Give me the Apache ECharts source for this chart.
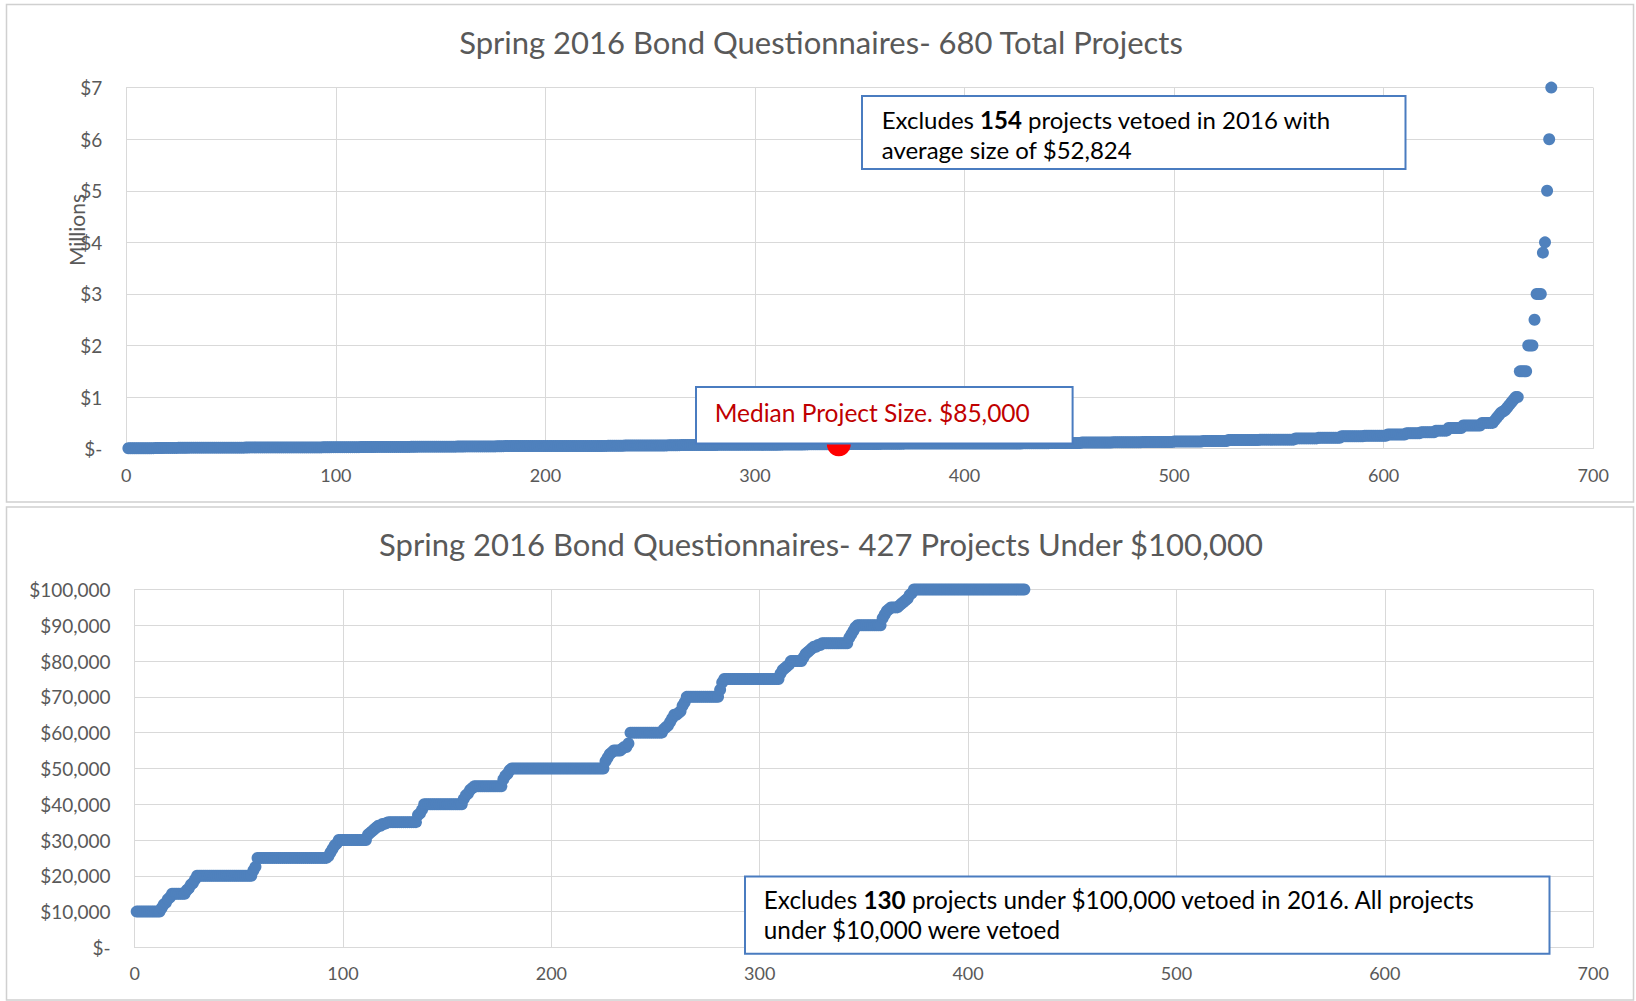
<!DOCTYPE html>
<html>
<head>
<meta charset="utf-8">
<script src="https://cdn.jsdelivr.net/npm/echarts@6/dist/echarts.min.js"></script>
<style>
html,body{margin:0;padding:0;background:#fff;}
#chart{width:1636px;height:1001px;}
</style>
</head>
<body>
<div id="chart"></div>
<script>
// ---- Data ----
const topTitle = 'Spring 2016 Bond Questionnaires- 680 Total Projects';
const bottomTitle = 'Spring 2016 Bond Questionnaires- 427 Projects Under $100,000';
const xTickMax = 700;
const xTickStep = 100;
const topYMax = 7000000;
const topYStep = 1000000;
const bottomYMax = 100000;
const bottomYStep = 10000;

// Projects under $100,000, sorted ascending: distinct sizes and how many projects have each
const lowSizes = [10000,11000,12000,12500,13500,14000,15000,16000,16500,17500,18000,19000,20000,21500,22500,25000,
  25500,26500,27500,28500,29000,30000,31500,32000,32500,33000,33500,34000,34500,34800,35000,37000,37500,38500,40000,
  41500,42500,43000,44000,44500,45000,47000,48000,48500,49500,50000,52000,53000,54000,54500,55000,55500,56000,57000,
  60000,61000,61500,62000,63000,64000,65000,65500,66000,67500,68500,70000,72000,74000,75000,76500,77500,78000,78500,
  79000,80000,81000,82000,82500,83000,83500,84000,84500,85000,86500,87500,88500,89500,90000,92000,93000,94000,94500,
  95000,95500,96000,96500,97000,97500,98500,99000,100000];
const lowCounts = [12,1,1,1,1,1,7,1,1,1,1,1,27,1,1,34,
  1,1,1,1,1,14,1,1,1,1,1,2,2,1,14,1,1,1,19,
  1,1,1,1,1,14,1,1,1,1,45,1,1,1,1,4,1,2,1,
  16,1,1,1,1,1,2,1,1,1,1,16,1,1,27,1,1,1,1,
  1,6,1,1,1,1,1,2,2,13,1,1,1,1,12,1,1,1,1,
  4,1,1,1,1,1,1,1,54];

// Projects above $100,000 (rest of the 680), sorted ascending
const highSizes = [105000,110000,120000,125000,130000,140000,150000,170000,175000,200000,210000,240000,250000,275000,
  300000,320000,350000,400000,450000,500000,550000,600000,650000,700000,720000,750000,800000,850000,900000,950000,
  1000000,1500000,2000000,2500000,3000000,3800000,4000000,5000000,6000000,7000000];
const highCounts = [13,15,15,14,15,14,12,15,17,11,11,11,11,9,
  7,7,6,7,9,6,1,1,1,1,1,1,1,1,1,1,
  2,4,3,1,3,1,1,1,1,1];

const medianIndex = 340;
const medianSize = 85000;

// ---- Build point lists from the runs ----
function expand(sizes, counts) {
  const out = [];
  sizes.forEach((s, k) => { for (let c = 0; c < counts[k]; c++) out.push(s); });
  return out;
}
const lowList = expand(lowSizes, lowCounts);
const allList = lowList.concat(expand(highSizes, highCounts));
const topPoints = allList.map((v, i) => [i + 1, v]);
const bottomPoints = lowList.map((v, i) => [i + 1, v]);

const FONT = 'Lato';
const GRAY = '#595959';
const GRID = '#D9D9D9';
const BLUE = '#4F81BD';
const BOXBLUE = '#4A7CC0';

function xAxisFor(gi) {
  return {
    type: 'value', gridIndex: gi, min: 0, max: xTickMax, interval: xTickStep,
    axisLine: {show: true, lineStyle: {color: GRID, width: 1}},
    axisTick: {show: false},
    splitLine: {show: true, lineStyle: {color: GRID, width: 1}},
    axisLabel: {color: GRAY, fontSize: 18, fontFamily: FONT, margin: 17}
  };
}

const chart = echarts.init(document.getElementById('chart'), null, {renderer: 'svg', width: 1636, height: 1001});
chart.setOption({
  animation: false,
  backgroundColor: '#ffffff',
  grid: [
    {left: 126.3, top: 87.6, width: 1466.9, height: 361.1},
    {left: 134.6, top: 589.5, width: 1458.6, height: 357.9}
  ],
  xAxis: [xAxisFor(0), xAxisFor(1)],
  yAxis: [
    {
      type: 'value', gridIndex: 0, min: 0, max: topYMax, interval: topYStep,
      axisLine: {show: true, lineStyle: {color: GRID}}, axisTick: {show: false},
      splitLine: {show: true, lineStyle: {color: GRID}},
      axisLabel: {color: GRAY, fontSize: 19, fontFamily: FONT, margin: 24,
        formatter: v => v === 0 ? '$-' : '$' + (v / 1000000)}
    },
    {
      type: 'value', gridIndex: 1, min: 0, max: bottomYMax, interval: bottomYStep,
      axisLine: {show: true, lineStyle: {color: GRID}}, axisTick: {show: false},
      splitLine: {show: true, lineStyle: {color: GRID}},
      axisLabel: {color: GRAY, fontSize: 19, fontFamily: FONT, margin: 24,
        formatter: v => v === 0 ? '$-' : '$' + v.toLocaleString('en-US')}
    }
  ],
  series: [
    {
      type: 'scatter', xAxisIndex: 0, yAxisIndex: 0, data: topPoints,
      symbol: 'circle', symbolSize: 12, itemStyle: {color: BLUE, opacity: 1}, z: 2
    },
    {
      type: 'scatter', xAxisIndex: 0, yAxisIndex: 0, data: [[medianIndex, medianSize]],
      symbol: 'circle', symbolSize: 24, itemStyle: {color: '#FF0000', opacity: 1}, z: 3
    },
    {
      type: 'scatter', xAxisIndex: 1, yAxisIndex: 1, data: bottomPoints,
      symbol: 'circle', symbolSize: 12, itemStyle: {color: BLUE, opacity: 1}, z: 2
    }
  ],
  graphic: [
    // panel frames
    {type: 'rect', z: 0, silent: true, shape: {x: 6.5, y: 4.5, width: 1627, height: 497.5},
      style: {fill: 'none', stroke: '#D0D0D0', lineWidth: 1.5}},
    {type: 'rect', z: 0, silent: true, shape: {x: 6.5, y: 507, width: 1627, height: 493},
      style: {fill: 'none', stroke: '#D0D0D0', lineWidth: 1.5}},
    // titles
    {type: 'text', z: 10, x: 821, y: 42, style: {text: topTitle, fill: GRAY, font: '31px ' + FONT,
      textAlign: 'center', textVerticalAlign: 'middle'}},
    {type: 'text', z: 10, x: 821, y: 544, style: {text: bottomTitle, fill: GRAY, font: '31px ' + FONT,
      textAlign: 'center', textVerticalAlign: 'middle'}},
    // display units label
    {type: 'text', z: 10, x: 76, y: 230, rotation: Math.PI / 2,
      style: {text: 'Millions', fill: GRAY, font: '21px ' + FONT, textAlign: 'center', textVerticalAlign: 'middle'}},
    // top note
    {type: 'group', z: 100, children: [
      {type: 'rect', z: 100, shape: {x: 862, y: 96, width: 543.5, height: 73},
        style: {fill: '#ffffff', stroke: BOXBLUE, lineWidth: 2}},
      {type: 'text', z: 101, x: 881.7, y: 104, style: {
        text: '{n|Excludes }{b|154}{n| projects vetoed in 2016 with}\n{n|average size of $52,824}',
        rich: {n: {fontSize: 24, fontFamily: FONT, fill: '#000000', lineHeight: 30},
               b: {fontSize: 24, fontFamily: FONT, fontWeight: 'bold', fill: '#000000', lineHeight: 30}},
        textVerticalAlign: 'top'}}
    ]},
    // median note
    {type: 'group', z: 100, children: [
      {type: 'rect', z: 100, shape: {x: 696, y: 387, width: 376.6, height: 56.5},
        style: {fill: '#ffffff', stroke: BOXBLUE, lineWidth: 2}},
      {type: 'text', z: 101, x: 714.7, y: 412, style: {text: 'Median Project Size. $85,000',
        fill: '#C00000', font: '24.5px ' + FONT, textVerticalAlign: 'middle'}}
    ]},
    // bottom note
    {type: 'group', z: 100, children: [
      {type: 'rect', z: 100, shape: {x: 745, y: 876.5, width: 804.5, height: 77.2},
        style: {fill: '#ffffff', stroke: BOXBLUE, lineWidth: 2}},
      {type: 'text', z: 101, x: 763.8, y: 884, style: {
        text: '{n|Excludes }{b|130}{n| projects under $100,000 vetoed in 2016. All projects}\n{n|under $10,000 were vetoed}',
        rich: {n: {fontSize: 24.3, fontFamily: FONT, fill: '#000000', lineHeight: 30},
               b: {fontSize: 24.3, fontFamily: FONT, fontWeight: 'bold', fill: '#000000', lineHeight: 30}},
        textVerticalAlign: 'top'}}
    ]}
  ]
});
</script>
</body>
</html>
